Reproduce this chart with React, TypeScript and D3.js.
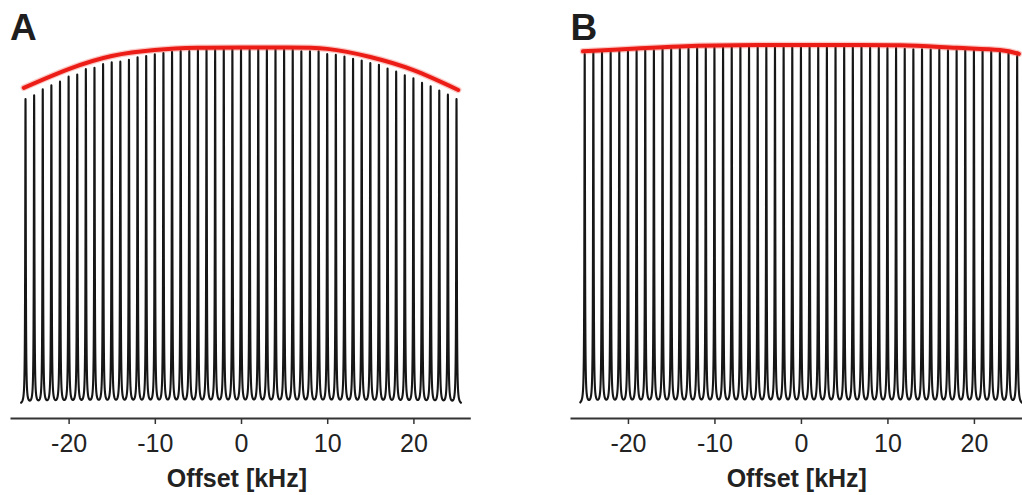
import React, { useEffect, useRef } from 'react';
import * as d3 from 'd3';

// peak offsets in kHz
const OFFSETS = [
  -25, -24, -23, -22, -21, -20, -19, -18, -17, -16, -15, -14, -13, -12, -11, -10, -9, -8, -7, -6, -5, -4, -3, -2, -1,
  0, 1, 2, 3, 4, 5, 6, 7, 8, 9, 10, 11, 12, 13, 14, 15, 16, 17, 18, 19, 20, 21, 22, 23, 24, 25,
];

// peak heights, % of max (panel A)
const PEAKS_A = [
  86.2, 87.1, 88.8, 89.9, 90.9, 92.3, 92.9, 94.4, 94.8, 95.8, 96.3, 96.5, 97.0, 97.7, 98.1, 98.6, 98.9, 99.3, 99.5, 99.5,
  99.8, 99.8, 99.8, 100.1, 100.1, 99.8, 99.8, 99.8, 99.8, 100.1, 99.8, 99.8, 99.4, 99.4, 99.4, 98.6, 98.4, 97.9, 97.3,
  96.8, 96.1, 95.6, 94.6, 93.7, 92.7, 91.8, 90.6, 89.6, 88.4, 87.3, 86.2,
];

// peak heights, % of max (panel B)
const PEAKS_B = [
  98.9, 99.2, 99.2, 99.3, 99.4, 99.4, 99.6, 99.7, 99.7, 99.9, 100.0, 100.1, 100.1, 100.3, 100.3, 100.4, 100.4, 100.6,
  100.6, 100.6, 100.7, 100.7, 100.7, 100.7, 100.7, 100.7, 100.7, 100.7, 100.7, 100.7, 100.7, 100.6, 100.6, 100.4, 100.4,
  100.3, 100.3, 100.1, 100.0, 100.0, 99.9, 99.9, 99.7, 99.7, 99.7, 99.6, 99.6, 99.4, 99.4, 99.3, 98.3,
];

// red envelopes (kHz, %)
const ENV_A_F = [-25.2, -20, -15, -10, -5, 0, 5, 10, 15, 20, 25.2];
const ENV_A = [89.6, 94.9, 98.6, 100.3, 100.9, 101.0, 101.0, 100.6, 98.3, 94.6, 89.0];
const ENV_B_F = [-25.2, -14, -5, 0, 5, 11.5, 18, 23, 25.2];
const ENV_B = [99.9, 101.3, 101.7, 101.7, 101.7, 101.6, 100.9, 100.3, 99.2];

const TICKS = [-20, -10, 0, 10, 20];
const HWHM = 0.04; // kHz, line half width

const W = 1022;
const H = 495;

type Panel = {
  letter: string;
  letterX: number;
  domain: [number, number];
  range: [number, number];
  peaks: number[];
  envF: number[];
  env: number[];
};

const PANELS: Panel[] = [
  { letter: 'A', letterX: 10, domain: [-26.8, 26.6], range: [10, 470.3], peaks: PEAKS_A, envF: ENV_A_F, env: ENV_A },
  { letter: 'B', letterX: 570.5, domain: [-26.7, 26.6], range: [570, 1031], peaks: PEAKS_B, envF: ENV_B_F, env: ENV_B },
];

const drawPanel = (svg: d3.Selection<SVGSVGElement, unknown, null, undefined>, p: Panel) => {
  const x = d3.scaleLinear().domain(p.domain).range(p.range);
  const y = d3.scaleLinear().domain([0, 100]).range([405, 51]);
  const g2 = HWHM * HWHM;

  const samples: [number, number][] = [];
  for (let f = -25.6; f <= 25.6001; f += 0.004) {
    let v = 0;
    for (let k = 0; k < OFFSETS.length; k++) {
      const d = f - OFFSETS[k];
      v += (p.peaks[k] * g2) / (d * d + g2);
    }
    samples.push([f, v]);
  }
  // make sure the exact peak tops are in the path
  OFFSETS.forEach((o) => {
    let v = 0;
    OFFSETS.forEach((o2, k) => {
      const d = o - o2;
      v += (p.peaks[k] * g2) / (d * d + g2);
    });
    samples.push([o, v]);
  });
  samples.sort((a, b) => a[0] - b[0]);

  const g = svg.append('g');

  g.append('path')
    .datum(samples)
    .attr('fill', 'none')
    .attr('stroke', '#161616')
    .attr('stroke-width', 2.1)
    .attr('stroke-linejoin', 'round')
    .attr(
      'd',
      d3
        .line<[number, number]>()
        .x((d) => x(d[0]))
        .y((d) => y(d[1]))
    );

  const envLine = d3
    .line<number>()
    .curve(d3.curveNatural)
    .x((d, i) => x(p.envF[i]))
    .y((d) => y(d));

  g.append('path')
    .datum(p.env)
    .attr('fill', 'none')
    .attr('stroke', '#f04a3e')
    .attr('stroke-opacity', 0.3)
    .attr('stroke-width', 6.5)
    .attr('stroke-linecap', 'round')
    .attr('d', envLine);
  g.append('path')
    .datum(p.env)
    .attr('fill', 'none')
    .attr('stroke', '#ec1c16')
    .attr('stroke-width', 4)
    .attr('stroke-linecap', 'round')
    .attr('d', envLine);

  const axis = g
    .append('g')
    .attr('transform', 'translate(0,418)')
    .call(
      d3
        .axisBottom(x)
        .tickValues(TICKS)
        .tickSizeInner(6)
        .tickSizeOuter(0)
        .tickPadding(10)
        .tickFormat((d) => String(d))
    );
  axis.select('.domain').attr('stroke', '#333').attr('stroke-width', 2);
  axis.selectAll('.tick line').attr('stroke', '#333').attr('stroke-width', 1.5);
  axis
    .selectAll('.tick text')
    .attr('fill', '#222')
    .attr('font-size', 25)
    .attr('font-family', '"Liberation Sans", Arial, sans-serif');

  g.append('text')
    .attr('x', x(0) - 74.3)
    .attr('y', 487)
    .attr('font-family', '"Liberation Sans", Arial, sans-serif')
    .attr('font-weight', 'bold')
    .attr('font-size', 25)
    .attr('fill', '#222')
    .text('Offset [kHz]');

  g.append('text')
    .attr('x', p.letterX)
    .attr('y', 39.5)
    .attr('font-family', '"Liberation Sans", Arial, sans-serif')
    .attr('font-weight', 'bold')
    .attr('font-size', 37)
    .attr('fill', '#1e1e1e')
    .text(p.letter);
};

export default function App() {
  const ref = useRef<SVGSVGElement>(null);

  useEffect(() => {
    if (!ref.current) return;
    const svg = d3.select(ref.current);
    svg.selectAll('*').remove();
    PANELS.forEach((p) => drawPanel(svg, p));
  }, []);

  return (
    <svg
      ref={ref}
      width={W}
      height={H}
      style={{ position: 'absolute', left: 0, top: 0, background: '#fff', display: 'block' }}
    ></svg>
  );
}
